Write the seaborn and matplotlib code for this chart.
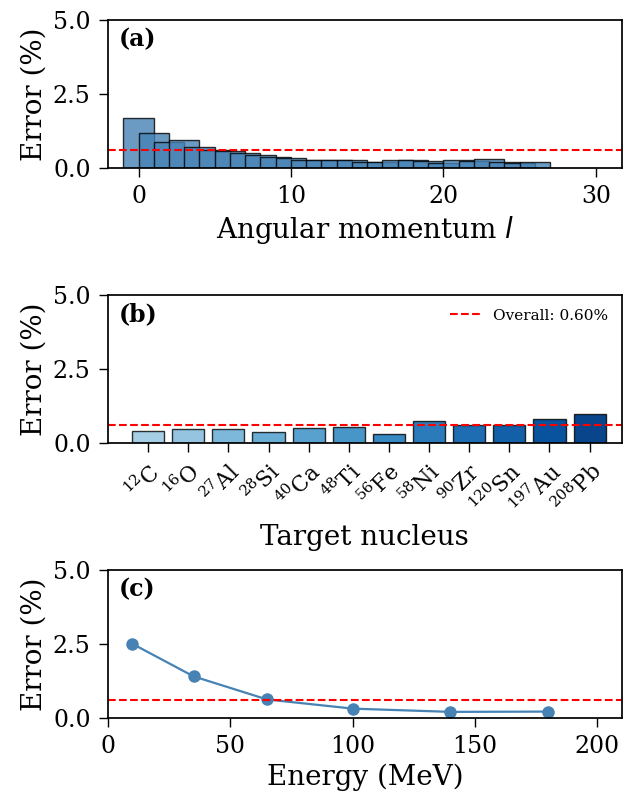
import numpy as np
import matplotlib
matplotlib.use("Agg")
import matplotlib.pyplot as plt
import seaborn as sns

# ── data ──────────────────────────────────────
l_values = list(range(27))
l_error = [1.68, 1.17, 0.87, 0.95, 0.69, 0.62, 0.58, 0.49, 0.45, 0.38,
           0.32, 0.27, 0.27, 0.28, 0.26, 0.21, 0.21, 0.26, 0.27, 0.23,
           0.18, 0.27, 0.24, 0.29, 0.21, 0.17, 0.19]

nuclei = [r"$^{\mathregular{12}}$C", r"$^{\mathregular{16}}$O", r"$^{\mathregular{27}}$Al",
          r"$^{\mathregular{28}}$Si", r"$^{\mathregular{40}}$Ca", r"$^{\mathregular{48}}$Ti",
          r"$^{\mathregular{56}}$Fe", r"$^{\mathregular{58}}$Ni", r"$^{\mathregular{90}}$Zr",
          r"$^{\mathregular{120}}$Sn", r"$^{\mathregular{197}}$Au", r"$^{\mathregular{208}}$Pb"]
nucleus_error = [0.41, 0.46, 0.47, 0.35, 0.50, 0.53, 0.30, 0.75, 0.62, 0.61, 0.81, 0.99]

energies = [10, 35, 65, 100, 140, 180]
energy_error = [2.50, 1.40, 0.62, 0.31, 0.20, 0.21]

overall = 0.60

# ── style ─────────────────────────────────────
sns.set_theme(style="ticks")
plt.rcParams['font.family'] = ['DejaVu Serif']
plt.rcParams['axes.edgecolor'] = 'black'
plt.rcParams['text.color'] = 'black'
plt.rcParams['axes.labelcolor'] = 'black'
plt.rcParams['xtick.color'] = 'black'
plt.rcParams['ytick.color'] = 'black'

fig, axes = plt.subplots(3, 1, figsize=(6.28, 8.02), dpi=100)
fig.subplots_adjust(left=0.172, right=0.99, top=0.975, bottom=0.105, hspace=0.86)

TICK = 17
LABEL = 20

# ── (a) angular momentum ──────────────────────
ax = axes[0]
ax.bar(l_values, l_error, width=2.0, color='steelblue', alpha=0.8,
       edgecolor='black', linewidth=1)
ax.axhline(overall, color='red', linestyle='--', linewidth=1.5)
ax.set_xlim(-2.0, 31.7)
ax.set_xticks([0, 10, 20, 30])
ax.set_xlabel(r"Angular momentum $l$", fontsize=LABEL)

# ── (b) target nucleus ────────────────────────
ax = axes[1]
colors = plt.cm.Blues(np.linspace(0.35, 0.92, len(nuclei)))
ax.bar(range(len(nuclei)), nucleus_error, width=0.8, color=colors,
       edgecolor=(0, 0, 0, 0.8), linewidth=1)
ax.axhline(overall, color='red', linestyle='--', linewidth=1.5,
           label=f"Overall: {overall:.2f}%")
ax.set_xlim(-1.0, 11.8)
ax.set_xticks(range(len(nuclei)))
ax.set_xticklabels(nuclei, rotation=45, ha='right', rotation_mode='anchor')
ax.set_xlabel("Target nucleus", fontsize=LABEL, labelpad=3)
ax.legend(loc='upper right', fontsize=11, frameon=False, handlelength=2)

# ── (c) energy ────────────────────────────────
ax = axes[2]
sns.lineplot(x=energies, y=energy_error, ax=ax, color='steelblue',
             marker='o', markersize=9, markeredgewidth=0, linewidth=1.6)
ax.axhline(overall, color='red', linestyle='--', linewidth=1.5)
ax.set_xlim(0, 210)
ax.set_xlabel("Energy (MeV)", fontsize=LABEL)

for ax, tag in zip(axes, ["(a)", "(b)", "(c)"]):
    ax.set_ylim(0, 5)
    ax.set_yticks([0, 2.5, 5.0])
    ax.set_ylabel("Error (%)", fontsize=LABEL)
    ax.tick_params(labelsize=TICK, length=6.5, width=1, pad=6)
    ax.text(0.02, 0.95, tag, transform=ax.transAxes, fontsize=17,
            fontweight='bold', va='top', ha='left')

axes[1].tick_params(axis='x', labelsize=15.5)

plt.savefig("out.png", dpi=100)
plt.close()
